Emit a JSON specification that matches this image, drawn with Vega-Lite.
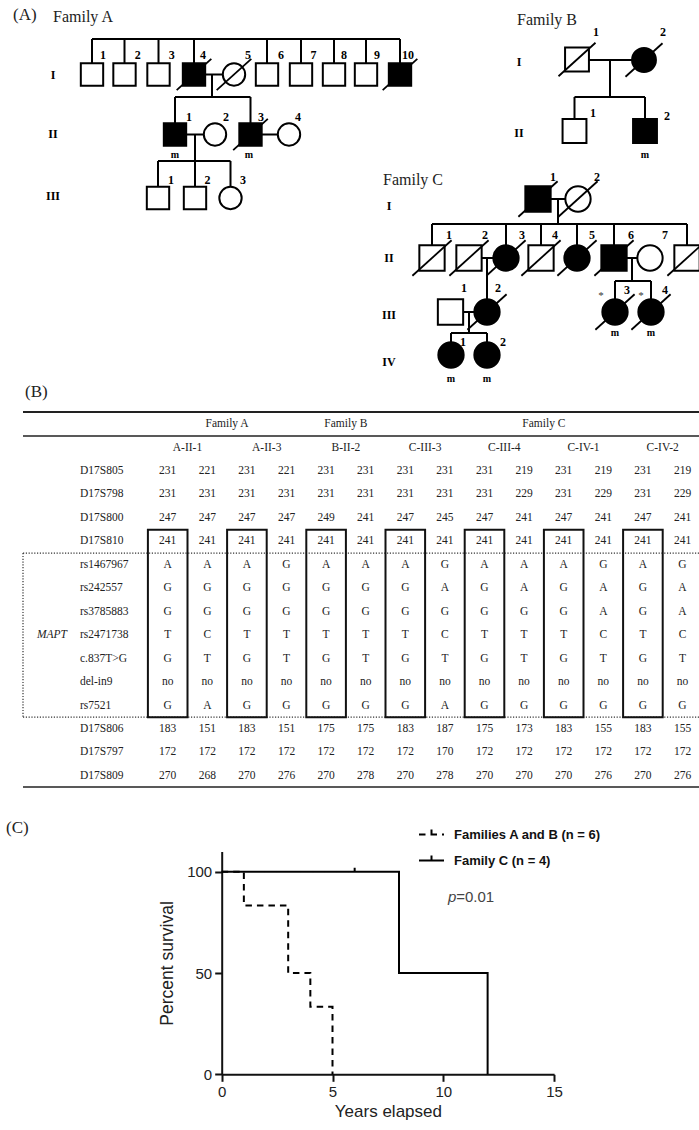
{
"$schema":"https://vega.github.io/schema/vega-lite/v6.json",
"width":699,"height":1130,"autosize":{"type":"none"},"padding":0,"background":"white",
"config":{"view":{"stroke":null},"axis":{"grid":false}},
"datasets":{
"peds":[
{"f":"A","x":9.2,"y":7.45,"s":"M","a":"n","d":0},
{"f":"A","x":12.45,"y":7.45,"s":"M","a":"n","d":0},
{"f":"A","x":15.85,"y":7.45,"s":"M","a":"n","d":0},
{"f":"A","x":19.4,"y":7.45,"s":"M","a":"y","d":1},
{"f":"A","x":23.4,"y":7.45,"s":"F","a":"n","d":1},
{"f":"A","x":26.7,"y":7.45,"s":"M","a":"n","d":0},
{"f":"A","x":30.1,"y":7.45,"s":"M","a":"n","d":0},
{"f":"A","x":33.4,"y":7.45,"s":"M","a":"n","d":0},
{"f":"A","x":36.6,"y":7.45,"s":"M","a":"n","d":0},
{"f":"A","x":40.0,"y":7.45,"s":"M","a":"y","d":1},
{"f":"A","x":17.5,"y":13.45,"s":"M","a":"y","d":0},
{"f":"A","x":21.5,"y":13.45,"s":"F","a":"n","d":0},
{"f":"A","x":25.05,"y":13.45,"s":"M","a":"y","d":1},
{"f":"A","x":28.9,"y":13.45,"s":"F","a":"n","d":0},
{"f":"A","x":15.8,"y":19.8,"s":"M","a":"n","d":0},
{"f":"A","x":19.5,"y":19.8,"s":"M","a":"n","d":0},
{"f":"A","x":23.05,"y":19.8,"s":"F","a":"n","d":0},
{"f":"B","x":57.7,"y":5.95,"s":"M","a":"n","d":1},
{"f":"B","x":64.4,"y":6.0,"s":"F","a":"y","d":1},
{"f":"B","x":57.45,"y":13.1,"s":"M","a":"n","d":0},
{"f":"B","x":64.5,"y":13.1,"s":"M","a":"y","d":0},
{"f":"C","x":53.8,"y":19.9,"s":"M","a":"y","d":1},
{"f":"C","x":57.8,"y":19.9,"s":"F","a":"n","d":1},
{"f":"C","x":43.2,"y":25.8,"s":"M","a":"n","d":1},
{"f":"C","x":46.9,"y":25.8,"s":"M","a":"n","d":1},
{"f":"C","x":50.6,"y":25.8,"s":"F","a":"y","d":1},
{"f":"C","x":54.1,"y":25.8,"s":"M","a":"n","d":1},
{"f":"C","x":57.7,"y":25.8,"s":"F","a":"y","d":1},
{"f":"C","x":61.4,"y":25.8,"s":"M","a":"y","d":1},
{"f":"C","x":65.0,"y":25.8,"s":"F","a":"n","d":0},
{"f":"C","x":68.7,"y":25.8,"s":"M","a":"n","d":1},
{"f":"C","x":45.05,"y":31.2,"s":"M","a":"n","d":0},
{"f":"C","x":48.7,"y":31.2,"s":"F","a":"y","d":1},
{"f":"C","x":61.5,"y":31.2,"s":"F","a":"y","d":1},
{"f":"C","x":65.1,"y":31.2,"s":"F","a":"y","d":1},
{"f":"C","x":45.1,"y":35.5,"s":"F","a":"y","d":0},
{"f":"C","x":48.7,"y":35.5,"s":"F","a":"y","d":0}
],
"plines":[
{"x":9.2,"y":3.9,"x2":40.0,"y2":3.9},
{"x":9.2,"y":3.9,"x2":9.2,"y2":7.45},
{"x":12.45,"y":3.9,"x2":12.45,"y2":7.45},
{"x":15.85,"y":3.9,"x2":15.85,"y2":7.45},
{"x":19.4,"y":3.9,"x2":19.4,"y2":7.45},
{"x":26.7,"y":3.9,"x2":26.7,"y2":7.45},
{"x":30.1,"y":3.9,"x2":30.1,"y2":7.45},
{"x":33.4,"y":3.9,"x2":33.4,"y2":7.45},
{"x":36.6,"y":3.9,"x2":36.6,"y2":7.45},
{"x":40.0,"y":3.9,"x2":40.0,"y2":7.45},
{"x":19.4,"y":7.45,"x2":23.4,"y2":7.45},
{"x":21.2,"y":7.45,"x2":21.2,"y2":9.7},
{"x":17.5,"y":9.7,"x2":25.05,"y2":9.7},
{"x":17.5,"y":9.7,"x2":17.5,"y2":13.45},
{"x":25.05,"y":9.7,"x2":25.05,"y2":13.45},
{"x":17.5,"y":13.45,"x2":21.5,"y2":13.45},
{"x":19.5,"y":13.45,"x2":19.5,"y2":19.8},
{"x":15.8,"y":16.1,"x2":23.05,"y2":16.1},
{"x":15.8,"y":16.1,"x2":15.8,"y2":19.8},
{"x":23.05,"y":16.1,"x2":23.05,"y2":19.8},
{"x":25.05,"y":13.45,"x2":28.9,"y2":13.45},
{"x":57.7,"y":6.0,"x2":64.4,"y2":6.0},
{"x":61.0,"y":6.0,"x2":61.0,"y2":9.7},
{"x":57.45,"y":9.7,"x2":64.5,"y2":9.7},
{"x":57.45,"y":9.7,"x2":57.45,"y2":13.1},
{"x":64.5,"y":9.7,"x2":64.5,"y2":13.1},
{"x":53.8,"y":19.9,"x2":57.8,"y2":19.9},
{"x":55.8,"y":19.9,"x2":55.8,"y2":22.4},
{"x":43.2,"y":22.4,"x2":68.7,"y2":22.4},
{"x":43.2,"y":22.4,"x2":43.2,"y2":25.8},
{"x":50.6,"y":22.4,"x2":50.6,"y2":25.8},
{"x":54.1,"y":22.4,"x2":54.1,"y2":25.8},
{"x":57.7,"y":22.4,"x2":57.7,"y2":25.8},
{"x":61.4,"y":22.4,"x2":61.4,"y2":25.8},
{"x":68.7,"y":22.4,"x2":68.7,"y2":25.8},
{"x":46.9,"y":25.8,"x2":50.6,"y2":25.8},
{"x":48.7,"y":25.8,"x2":48.7,"y2":31.2},
{"x":61.4,"y":25.8,"x2":65.0,"y2":25.8},
{"x":63.2,"y":25.8,"x2":63.2,"y2":28.1},
{"x":61.5,"y":28.1,"x2":65.1,"y2":28.1},
{"x":61.5,"y":28.1,"x2":61.5,"y2":31.2},
{"x":65.1,"y":28.1,"x2":65.1,"y2":31.2},
{"x":45.05,"y":31.2,"x2":48.7,"y2":31.2},
{"x":46.9,"y":31.2,"x2":46.9,"y2":33.3},
{"x":45.1,"y":33.3,"x2":48.7,"y2":33.3},
{"x":45.1,"y":33.3,"x2":45.1,"y2":35.5},
{"x":48.7,"y":33.3,"x2":48.7,"y2":35.5}
],
"plabs":[
{"k":"id","x":10.3,"y":5.5,"t":"1"},{"k":"id","x":13.77,"y":5.5,"t":"2"},{"k":"id","x":17.17,"y":5.5,"t":"3"},{"k":"id","x":20.3,"y":5.5,"t":"4"},{"k":"id","x":24.8,"y":5.5,"t":"5"},{"k":"id","x":28.1,"y":5.5,"t":"6"},{"k":"id","x":31.35,"y":5.5,"t":"7"},{"k":"id","x":34.4,"y":5.5,"t":"8"},{"k":"id","x":37.7,"y":5.5,"t":"9"},{"k":"id","x":40.8,"y":5.5,"t":"10"},
{"k":"id","x":18.9,"y":11.65,"t":"1"},{"k":"id","x":22.6,"y":11.65,"t":"2"},{"k":"id","x":26.1,"y":11.65,"t":"3"},{"k":"id","x":29.8,"y":11.65,"t":"4"},
{"k":"id","x":17.1,"y":18.0,"t":"1"},{"k":"id","x":20.75,"y":18.0,"t":"2"},{"k":"id","x":24.3,"y":18.0,"t":"3"},
{"k":"id","x":59.6,"y":3.2,"t":"1"},{"k":"id","x":66.3,"y":3.2,"t":"2"},{"k":"id","x":59.3,"y":11.3,"t":"1"},{"k":"id","x":66.7,"y":11.6,"t":"2"},
{"k":"id","x":55.3,"y":17.7,"t":"1"},{"k":"id","x":59.7,"y":17.7,"t":"2"},
{"k":"id","x":44.9,"y":23.5,"t":"1"},{"k":"id","x":48.5,"y":23.5,"t":"2"},{"k":"id","x":52.2,"y":23.5,"t":"3"},{"k":"id","x":55.5,"y":23.5,"t":"4"},{"k":"id","x":59.2,"y":23.5,"t":"5"},{"k":"id","x":63.1,"y":23.5,"t":"6"},{"k":"id","x":66.5,"y":23.5,"t":"7"},
{"k":"id","x":46.4,"y":28.8,"t":"1"},{"k":"id","x":49.8,"y":28.8,"t":"2"},{"k":"id","x":62.7,"y":29.0,"t":"3"},{"k":"id","x":66.5,"y":29.0,"t":"4"},
{"k":"id","x":46.3,"y":34.2,"t":"1"},{"k":"id","x":50.3,"y":34.2,"t":"2"},
{"k":"star","x":60.1,"y":29.6,"t":"*"},{"k":"star","x":64.1,"y":29.6,"t":"*"},
{"k":"m","x":17.5,"y":15.5,"t":"m"},{"k":"m","x":24.9,"y":15.5,"t":"m"},{"k":"m","x":64.5,"y":15.5,"t":"m"},{"k":"m","x":61.5,"y":33.3,"t":"m"},{"k":"m","x":65.1,"y":33.3,"t":"m"},{"k":"m","x":45.1,"y":37.9,"t":"m"},{"k":"m","x":48.7,"y":37.9,"t":"m"},
{"k":"gen","x":5.3,"y":7.5,"t":"I"},{"k":"gen","x":5.3,"y":13.4,"t":"II"},{"k":"gen","x":5.3,"y":19.6,"t":"III"},
{"k":"gen","x":51.9,"y":6.2,"t":"I"},{"k":"gen","x":51.9,"y":13.3,"t":"II"},
{"k":"gen","x":38.9,"y":20.6,"t":"I"},{"k":"gen","x":38.9,"y":25.8,"t":"II"},{"k":"gen","x":38.9,"y":31.5,"t":"III"},{"k":"gen","x":38.9,"y":36.2,"t":"IV"},
{"k":"fam","x":5.3,"y":1.65,"t":"Family A"},{"k":"fam","x":51.7,"y":2.0,"t":"Family B"},{"k":"fam","x":38.3,"y":18.0,"t":"Family C"},
{"k":"panel","x":1.3,"y":1.5,"t":"(A)"},{"k":"panel","x":2.5,"y":39.2,"t":"(B)"},{"k":"panel","x":0.6,"y":82.8,"t":"(C)"}
],
"tbl":[
{"r":0,"lab":"D17S805","v":["231","221","231","221","231","231","231","231","231","219","231","219","231","219"],"c":[0,1,2,3,4,5,6,7,8,9,10,11,12,13]},
{"r":1,"lab":"D17S798","v":["231","231","231","231","231","231","231","231","231","229","231","229","231","229"],"c":[0,1,2,3,4,5,6,7,8,9,10,11,12,13]},
{"r":2,"lab":"D17S800","v":["247","247","247","247","249","241","247","245","247","241","247","241","247","241"],"c":[0,1,2,3,4,5,6,7,8,9,10,11,12,13]},
{"r":3,"lab":"D17S810","v":["241","241","241","241","241","241","241","241","241","241","241","241","241","241"],"c":[0,1,2,3,4,5,6,7,8,9,10,11,12,13]},
{"r":4,"lab":"rs1467967","v":["A","A","A","G","A","A","A","G","A","A","A","G","A","G"],"c":[0,1,2,3,4,5,6,7,8,9,10,11,12,13]},
{"r":5,"lab":"rs242557","v":["G","G","G","G","G","G","G","A","G","A","G","A","G","A"],"c":[0,1,2,3,4,5,6,7,8,9,10,11,12,13]},
{"r":6,"lab":"rs3785883","v":["G","G","G","G","G","G","G","G","G","G","G","A","G","A"],"c":[0,1,2,3,4,5,6,7,8,9,10,11,12,13]},
{"r":7,"lab":"rs2471738","v":["T","C","T","T","T","T","T","C","T","T","T","C","T","C"],"c":[0,1,2,3,4,5,6,7,8,9,10,11,12,13]},
{"r":8,"lab":"c.837T>G","v":["G","T","G","T","G","T","G","T","G","T","G","T","G","T"],"c":[0,1,2,3,4,5,6,7,8,9,10,11,12,13]},
{"r":9,"lab":"del-in9","v":["no","no","no","no","no","no","no","no","no","no","no","no","no","no"],"c":[0,1,2,3,4,5,6,7,8,9,10,11,12,13]},
{"r":10,"lab":"rs7521","v":["G","A","G","G","G","G","G","A","G","G","G","G","G","G"],"c":[0,1,2,3,4,5,6,7,8,9,10,11,12,13]},
{"r":11,"lab":"D17S806","v":["183","151","183","151","175","175","183","187","175","173","183","155","183","155"],"c":[0,1,2,3,4,5,6,7,8,9,10,11,12,13]},
{"r":12,"lab":"D17S797","v":["172","172","172","172","172","172","172","170","172","172","172","172","172","172"],"c":[0,1,2,3,4,5,6,7,8,9,10,11,12,13]},
{"r":13,"lab":"D17S809","v":["270","268","270","276","270","278","270","278","270","270","270","276","270","276"],"c":[0,1,2,3,4,5,6,7,8,9,10,11,12,13]}
],
"thdr":[
{"c":1.5,"r":-2,"t":"Family A"},{"c":4.5,"r":-2,"t":"Family B"},{"c":9.5,"r":-2,"t":"Family C"},
{"c":0.5,"r":-1,"t":"A-II-1"},{"c":2.5,"r":-1,"t":"A-II-3"},{"c":4.5,"r":-1,"t":"B-II-2"},{"c":6.5,"r":-1,"t":"C-III-3"},{"c":8.5,"r":-1,"t":"C-III-4"},{"c":10.5,"r":-1,"t":"C-IV-1"},{"c":12.5,"r":-1,"t":"C-IV-2"}
],
"tlines":[
{"x":-3.654,"y":-2.516,"x2":13.417,"y2":-2.516,"k":"thick"},
{"x":-3.654,"y":-1.49,"x2":13.417,"y2":-1.49,"k":"thin"},
{"x":-3.654,"y":13.475,"x2":13.417,"y2":13.475,"k":"thin"},
{"x":-3.654,"y":3.5,"x2":13.417,"y2":3.5,"k":"dot"},
{"x":-3.654,"y":10.5,"x2":13.417,"y2":10.5,"k":"dot"},
{"x":-3.654,"y":3.5,"x2":-3.654,"y2":10.5,"k":"dot"}
],
"tbox":[
{"x":-0.5,"x2":0.5,"y":2.5,"y2":10.5},{"x":1.5,"x2":2.5,"y":2.5,"y2":10.5},{"x":3.5,"x2":4.5,"y":2.5,"y2":10.5},{"x":5.5,"x2":6.5,"y":2.5,"y2":10.5},{"x":7.5,"x2":8.5,"y":2.5,"y2":10.5},{"x":9.5,"x2":10.5,"y":2.5,"y2":10.5},{"x":11.5,"x2":12.5,"y":2.5,"y2":10.5}
],
"surv":[
{"g":"Families A and B (n = 6)","t":0,"s":100},{"g":"Families A and B (n = 6)","t":1,"s":83.33},{"g":"Families A and B (n = 6)","t":3,"s":50},{"g":"Families A and B (n = 6)","t":4,"s":33.33},{"g":"Families A and B (n = 6)","t":5,"s":0},
{"g":"Family C (n = 4)","t":0,"s":100},{"g":"Family C (n = 4)","t":8,"s":50},{"g":"Family C (n = 4)","t":12,"s":0}
],
"cens":[{"g":"Family C (n = 4)","t":6,"s":100}]
},
"layer":[
{"layer":[
 {"data":{"name":"plines"},"mark":{"type":"rule","color":"black","strokeWidth":2},
  "encoding":{"x":{"field":"x","type":"quantitative","scale":{"domain":[0,69.9],"range":[0,699],"nice":false,"zero":false},"axis":null},
   "y":{"field":"y","type":"quantitative","scale":{"domain":[0,113],"range":[0,1130],"nice":false,"zero":false},"axis":null},
   "x2":{"field":"x2"},"y2":{"field":"y2"}}},
 {"data":{"name":"peds"},"mark":{"type":"point","filled":true,"stroke":"black","strokeWidth":2,"opacity":1},
  "encoding":{"x":{"field":"x","type":"quantitative"},"y":{"field":"y","type":"quantitative"},
   "shape":{"field":"s","type":"nominal","scale":{"domain":["M","F"],"range":["square","circle"]},"legend":null},
   "fill":{"field":"a","type":"nominal","scale":{"domain":["y","n"],"range":["#000000","#ffffff"]},"legend":null},
   "size":{"field":"f","type":"ordinal","scale":{"domain":["A","B","C"],"range":[500,640,560]},"legend":null}}},
 {"data":{"name":"peds"},"transform":[{"filter":"datum.d == 1"}],"mark":{"type":"point","shape":"M-1.55,1.4L1.55,-1.4","filled":false,"stroke":"black","strokeWidth":1.8,"opacity":1},
  "encoding":{"x":{"field":"x","type":"quantitative"},"y":{"field":"y","type":"quantitative"},
   "size":{"field":"f","type":"ordinal","scale":{"domain":["A","B","C"],"range":[500,640,560]},"legend":null}}},
 {"data":{"name":"plabs"},"transform":[{"filter":"datum.k == 'id'"}],"mark":{"type":"text","font":"Liberation Serif","fontSize":12,"fontWeight":"bold","align":"center","baseline":"middle","color":"black"},
  "encoding":{"x":{"field":"x","type":"quantitative"},"y":{"field":"y","type":"quantitative"},"text":{"field":"t"}}},
 {"data":{"name":"plabs"},"transform":[{"filter":"datum.k == 'star'"}],"mark":{"type":"text","font":"Liberation Serif","fontSize":11,"align":"center","baseline":"middle","color":"#333"},
  "encoding":{"x":{"field":"x","type":"quantitative"},"y":{"field":"y","type":"quantitative"},"text":{"field":"t"}}},
 {"data":{"name":"plabs"},"transform":[{"filter":"datum.k == 'm'"}],"mark":{"type":"text","font":"Liberation Serif","fontSize":10,"fontWeight":"bold","align":"center","baseline":"middle","color":"black"},
  "encoding":{"x":{"field":"x","type":"quantitative"},"y":{"field":"y","type":"quantitative"},"text":{"field":"t"}}},
 {"data":{"name":"plabs"},"transform":[{"filter":"datum.k == 'gen'"}],"mark":{"type":"text","font":"Liberation Serif","fontSize":12,"fontWeight":"bold","align":"center","baseline":"middle","color":"black"},
  "encoding":{"x":{"field":"x","type":"quantitative"},"y":{"field":"y","type":"quantitative"},"text":{"field":"t"}}},
 {"data":{"name":"plabs"},"transform":[{"filter":"datum.k == 'fam'"}],"mark":{"type":"text","font":"Liberation Serif","fontSize":16,"align":"left","baseline":"middle","color":"#222"},
  "encoding":{"x":{"field":"x","type":"quantitative"},"y":{"field":"y","type":"quantitative"},"text":{"field":"t"}}},
 {"data":{"name":"plabs"},"transform":[{"filter":"datum.k == 'panel'"}],"mark":{"type":"text","font":"Liberation Serif","fontSize":17,"align":"left","baseline":"middle","color":"#222"},
  "encoding":{"x":{"field":"x","type":"quantitative"},"y":{"field":"y","type":"quantitative"},"text":{"field":"t"}}}
]},
{"layer":[
 {"data":{"name":"tlines"},"transform":[{"filter":"datum.k == 'thick'"}],"mark":{"type":"rule","color":"#222","strokeWidth":2},
  "encoding":{"x":{"field":"x","type":"quantitative","scale":{"domain":[0,13],"range":[167.7,682.5],"nice":false,"zero":false},"axis":null},
   "y":{"field":"y","type":"quantitative","scale":{"domain":[0,13],"range":[471,775.85],"nice":false,"zero":false},"axis":null},
   "x2":{"field":"x2"},"y2":{"field":"y2"}}},
 {"data":{"name":"tlines"},"transform":[{"filter":"datum.k == 'thin'"}],"mark":{"type":"rule","color":"#222","strokeWidth":1.6},
  "encoding":{"x":{"field":"x","type":"quantitative"},"y":{"field":"y","type":"quantitative"},"x2":{"field":"x2"},"y2":{"field":"y2"}}},
 {"data":{"name":"tlines"},"transform":[{"filter":"datum.k == 'dot'"}],"mark":{"type":"rule","color":"#333","strokeWidth":1.2,"strokeDash":[1.2,1.6]},
  "encoding":{"x":{"field":"x","type":"quantitative"},"y":{"field":"y","type":"quantitative"},"x2":{"field":"x2"},"y2":{"field":"y2"}}},
 {"data":{"name":"tbox"},"mark":{"type":"rect","fillOpacity":0,"stroke":"#111","strokeWidth":2},
  "encoding":{"x":{"field":"x","type":"quantitative"},"y":{"field":"y","type":"quantitative"},"x2":{"field":"x2"},"y2":{"field":"y2"}}},
 {"data":{"name":"tbl"},"transform":[{"flatten":["v","c"]}],"mark":{"type":"text","font":"Liberation Serif","fontSize":11.5,"align":"center","baseline":"middle","color":"#222"},
  "encoding":{"x":{"field":"c","type":"quantitative"},"y":{"field":"r","type":"quantitative"},"text":{"field":"v"}}},
 {"data":{"name":"tbl"},"mark":{"type":"text","font":"Liberation Serif","fontSize":11.5,"align":"left","baseline":"middle","color":"#222"},
  "encoding":{"x":{"datum":-2.215},"y":{"field":"r","type":"quantitative"},"text":{"field":"lab"}}},
 {"data":{"name":"thdr"},"mark":{"type":"text","font":"Liberation Serif","fontSize":11.5,"align":"center","baseline":"middle","color":"#222"},
  "encoding":{"x":{"field":"c","type":"quantitative"},"y":{"field":"r","type":"quantitative"},"text":{"field":"t"}}},
 {"data":{"values":[{"t":"MAPT"}]},"mark":{"type":"text","font":"Liberation Serif","fontSize":11.5,"fontStyle":"italic","align":"center","baseline":"middle","color":"#222"},
  "encoding":{"x":{"datum":-2.924},"y":{"datum":7},"text":{"field":"t"}}}
]},
{"layer":[
 {"data":{"name":"surv"},"mark":{"type":"line","interpolate":"step-after","color":"black","strokeWidth":2},
  "encoding":{
   "x":{"field":"t","type":"quantitative","scale":{"domain":[0,15],"range":[221.7,554.1],"nice":false,"zero":false},
    "axis":{"orient":"bottom","offset":-55.7,"values":[0,5,10,15],"grid":false,"labelFlush":false,"domainColor":"#111","domainWidth":2,"tickColor":"#111","tickWidth":2,"tickSize":7,"labelFont":"Liberation Sans","labelFontSize":15,"labelColor":"#222","labelPadding":3,"title":"Years elapsed","titleFont":"Liberation Sans","titleFontSize":17,"titleFontWeight":"normal","titleColor":"#222","titlePadding":4}},
   "y":{"field":"s","type":"quantitative","scale":{"domain":[0,110],"range":[1074.3,851.5],"nice":false,"zero":false},
    "axis":{"orient":"left","offset":-221.7,"values":[0,50,100],"grid":false,"labelFlush":false,"domainColor":"#111","domainWidth":2,"tickColor":"#111","tickWidth":2,"tickSize":7,"labelFont":"Liberation Sans","labelFontSize":15,"labelColor":"#222","labelPadding":3,"title":"Percent survival","titleFont":"Liberation Sans","titleFontSize":17.5,"titleFontWeight":"normal","titleColor":"#222","titlePadding":10}},
   "strokeDash":{"field":"g","type":"nominal","scale":{"domain":["Families A and B (n = 6)","Family C (n = 4)"],"range":[[6.5,5],[1,0]]},
    "legend":{"title":null,"orient":"none","legendX":418,"legendY":821,"direction":"vertical","symbolType":"M-1,0H1M0,0V-0.4","symbolSize":625,"symbolStrokeWidth":2,"symbolStrokeColor":"black","labelFont":"Liberation Sans","labelFontSize":13,"labelFontWeight":"bold","labelColor":"#111","labelOffset":9,"rowPadding":5,"padding":0}}}},
 {"data":{"name":"cens"},"mark":{"type":"point","shape":"M0,-1L0,0","filled":false,"stroke":"black","strokeWidth":2,"size":64,"opacity":1},
  "encoding":{"x":{"field":"t","type":"quantitative"},"y":{"field":"s","type":"quantitative"}}},
 {"data":{"values":[{"t":"p"}]},"mark":{"type":"text","font":"Liberation Sans","fontSize":15,"fontStyle":"italic","align":"left","baseline":"middle","color":"#444"},
  "encoding":{"x":{"datum":10.21},"y":{"datum":87.5},"text":{"field":"t"}}},
 {"data":{"values":[{"t":"=0.01"}]},"mark":{"type":"text","font":"Liberation Sans","fontSize":15,"align":"left","baseline":"middle","color":"#444","dx":8.3},
  "encoding":{"x":{"datum":10.21},"y":{"datum":87.5},"text":{"field":"t"}}}
]}
],
"resolve":{"scale":{"x":"independent","y":"independent","size":"independent","shape":"independent","fill":"independent","strokeDash":"independent"},"axis":{"x":"independent","y":"independent"}}
}
